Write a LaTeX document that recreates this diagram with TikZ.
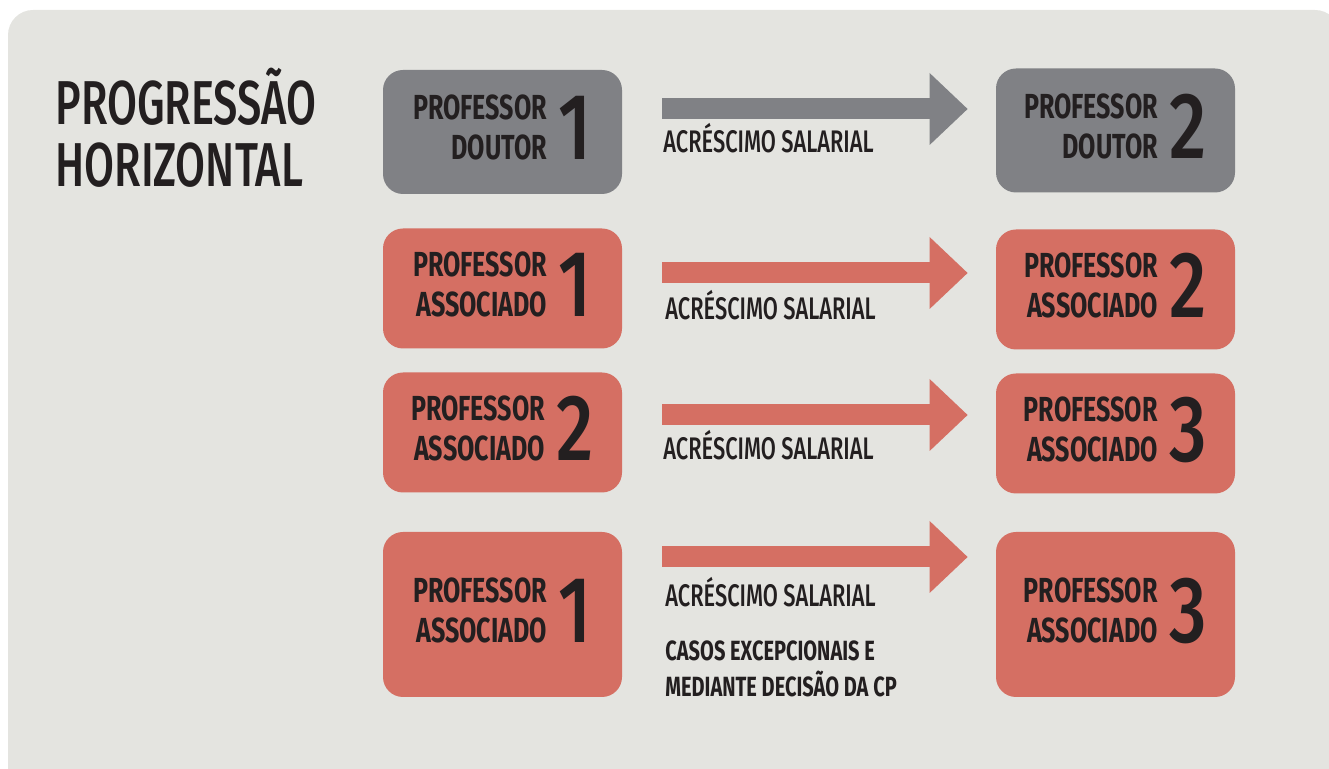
\documentclass[tikz,border=0pt]{standalone}
\usepackage{fontspec}
\setmainfont[FakeStretch=0.72]{Fira Sans}
\newfontfamily\medfont[FakeStretch=0.70]{Fira Sans Medium}
\newfontfamily\digitfont[FakeStretch=0.78]{Fira Sans Medium}
\usetikzlibrary{arrows.meta}

\definecolor{panelgrey}{HTML}{E4E4E0}
\definecolor{boxgrey}{HTML}{808185}
\definecolor{salmon}{HTML}{D56F63}
\definecolor{ink}{HTML}{231F20}

\newcommand{\proflabel}[3]{{\fontsize{17.4pt}{20pt}\selectfont\bfseries\begin{tabular}[b]{@{}r@{}}#1\\#2\end{tabular}}\hspace{6pt}{\digitfont\fontsize{47pt}{47pt}\selectfont #3}}

\begin{document}
\begin{tikzpicture}[x=0.5pt,y=-0.5pt]
    \tikzstyle{card}=[rectangle,rounded corners=10pt,minimum width=119.5pt,inner sep=0pt,text=ink]
    \tikzstyle{doutor}=[card,fill=boxgrey,minimum height=62pt]
    \tikzstyle{assoc}=[card,fill=salmon,minimum height=60pt]
    \tikzstyle{tall}=[card,fill=salmon,minimum height=82.5pt]
    \tikzstyle{advance}=[line width=10.5pt,shorten <=20pt,shorten >=14pt,-{Triangle[length=19pt,width=36pt,line width=0pt]}]
    \tikzstyle{gain}=[anchor=base west,inner sep=0pt,text=ink,font=\medfont\fontsize{15.6pt}{17pt}\selectfont]
    \useasboundingbox (0,0) rectangle (1329,769);
    \fill [panelgrey,rounded corners=12.5pt] (8,10) rectangle (1340,800);
    % title
    \node (title) [anchor=base west,inner sep=0pt,text=ink,font=\medfont\fontsize{31pt}{29pt}\selectfont] at (55,125)
        {\begin{tabular}[t]{@{}l@{}}PROGRESSÃO\\HORIZONTAL\end{tabular}};
    % cards
    \node (l1) at (502.5,132)   [doutor] {\proflabel{PROFESSOR}{DOUTOR}{1}};
    \node (r1) at (1115.5,130.5) [doutor] {\proflabel{PROFESSOR}{DOUTOR}{2}};
    \node (l2) at (502.5,288.5) [assoc] {\proflabel{PROFESSOR}{ASSOCIADO}{1}};
    \node (r2) at (1115.5,289.5) [assoc] {\proflabel{PROFESSOR}{ASSOCIADO}{2}};
    \node (l3) at (502.5,432.5) [assoc] {\proflabel{PROFESSOR}{ASSOCIADO}{2}};
    \node (r3) at (1115.5,433.5) [assoc] {\proflabel{PROFESSOR}{ASSOCIADO}{3}};
    \node (l4) at (502.5,614.5) [tall]  {\proflabel{PROFESSOR}{ASSOCIADO}{1}};
    \node (r4) at (1115.5,614.5) [tall]  {\proflabel{PROFESSOR}{ASSOCIADO}{3}};
    % arrows
    \coordinate (ya1) at (0,109);
    \coordinate (ya2) at (0,273);
    \coordinate (ya3) at (0,415);
    \coordinate (ya4) at (0,557);
    \draw [advance,boxgrey] (l1.east |- ya1) -- (r1.west |- ya1);
    \draw [advance,salmon]  (l2.east |- ya2) -- (r2.west |- ya2);
    \draw [advance,salmon]  (l3.east |- ya3) -- (r3.west |- ya3);
    \draw [advance,salmon]  (l4.east |- ya4) -- (r4.west |- ya4);
    % labels
    \node (g1) at (663,153) [gain] {ACRÉSCIMO SALARIAL};
    \node (g2) at (665,320) [gain] {ACRÉSCIMO SALARIAL};
    \node (g3) at (663,460) [gain] {ACRÉSCIMO SALARIAL};
    \node (g4) at (665,607) [gain] {ACRÉSCIMO SALARIAL};
    \node (cases) at (665,661) [gain,font=\fontsize{13.9pt}{17pt}\selectfont\bfseries]
        {\begin{tabular}[t]{@{}l@{}}CASOS EXCEPCIONAIS E\\MEDIANTE DECISÃO DA CP\end{tabular}};
\end{tikzpicture}
\end{document}
